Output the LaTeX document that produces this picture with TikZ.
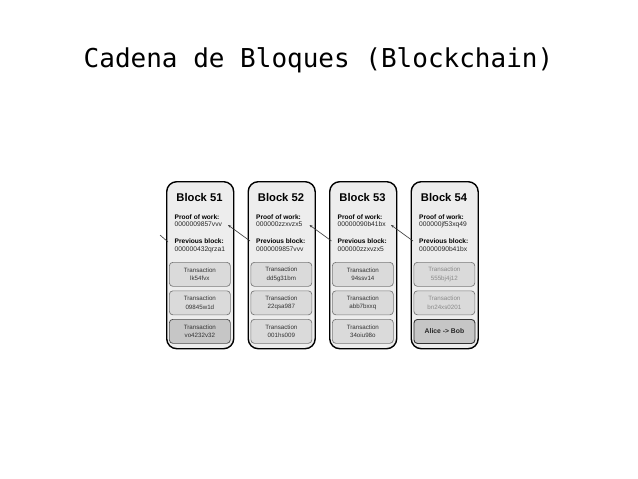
\documentclass[tikz,border=0pt]{standalone}
\usepackage{fontspec}
\setmainfont{Liberation Sans}
\newfontfamily\titlefont{DejaVu Sans Mono}
\usetikzlibrary{arrows.meta}
\definecolor{blockfill}{HTML}{EDEDED}
\definecolor{txfill}{HTML}{DADADA}
\definecolor{txdark}{HTML}{C6C6C6}
\definecolor{txline}{HTML}{7A7A7A}
\definecolor{txtext}{HTML}{333333}
\definecolor{fadetext}{HTML}{8A8A8A}
\tikzset{
 blockbox/.style={draw=black, line width=1.4pt, fill=blockfill, rounded corners=10pt, minimum width=67pt, minimum height=167pt, anchor=north west, inner sep=0},
 txbox/.style={draw=txline, line width=0.7pt, fill=txfill, rounded corners=3.5pt, minimum width=61pt, minimum height=24pt, anchor=north west, inner sep=0, align=center, font=\fontsize{6.2}{8.3}\selectfont, text=txtext},
 txdarkbox/.style={txbox, fill=txdark, draw=black!70},
 alicebox/.style={txbox, fill=txdark, draw=black!80, line width=0.9pt, font=\bfseries\fontsize{6.8}{8}\selectfont, text=black!85},
 fadetx/.style={text=fadetext},
 normtx/.style={},
 blocktitle/.style={anchor=base, inner sep=0, font=\bfseries\fontsize{11.2}{13}\selectfont},
 fieldlbl/.style={anchor=base west, inner sep=0, font=\bfseries\fontsize{6.6}{8}\selectfont},
 fieldval/.style={anchor=base west, inner sep=0, font=\fontsize{6.7}{8}\selectfont, text=black!85},
 link/.style={draw=black!80, line width=0.6pt},
 linkarrow/.style={link, -{Stealth[length=3pt,width=2.4pt]}},
 titletext/.style={anchor=base, inner sep=0, font=\titlefont\fontsize{26}{30}\selectfont},
}
\newcommand\mkblock[9]{%
 \node[blockbox] (b#2) at (#1,181) {};
 \node[blocktitle] (bt#2) at ({#1+33.5},201.7) {Block #2};
 \node[fieldlbl] (pl#2) at ({#1+8.5},219) {Proof of work:};
 \node[fieldval] (pw#2) at ({#1+8.5},226) {#3};
 \node[fieldlbl] (vl#2) at ({#1+8.5},243.3) {Previous block:};
 \node[fieldval] (pv#2) at ({#1+8.5},251) {#4};
 \node[txbox,#9] (ta#2) at ({#1+3},262) {#5};
 \node[txbox,#9] (tb#2) at ({#1+3},290.5) {#6};
 \node[#8] (tc#2) at ({#1+3},319) {#7};
}
\begin{document}
\begin{tikzpicture}[x=1pt,y=-1pt]
\fill[white] (0,0) rectangle (638,479);
\path[use as bounding box] (0,0) rectangle (638,479);
\node[titletext] (title) at (318.5,67) {Cadena de Bloques (Blockchain)};
\mkblock{166}{51}{0000009857vvv}{000000432qrza1}{Transaction\\lk54fvx}{Transaction\\09845w1d}{Transaction\\vo4232v32}{txdarkbox}{normtx}
\mkblock{247.5}{52}{000000zzxvzx5}{0000009857vvv}{Transaction\\dd5g31bm}{Transaction\\22qsa987}{Transaction\\001hs009}{txbox}{normtx}
\mkblock{329}{53}{00000090b41bx}{000000zzxvzx5}{Transaction\\94ssv14}{Transaction\\abb7bxxq}{Transaction\\34oiu98o}{txbox}{normtx}
\mkblock{410.5}{54}{000000jf53xq49}{00000090b41bx}{Transaction\\555bj4j12}{Transaction\\bn24xs0201}{Alice -> Bob}{alicebox}{fadetx}
\coordinate (h50) at (160,235);
\coordinate (p51) at (168,242);
\coordinate (h51) at (228,225);
\coordinate (p52) at (250,241);
\coordinate (h52) at (309.5,225);
\coordinate (p53) at (331.5,241);
\coordinate (h53) at (391,225);
\coordinate (p54) at (413,241);
\draw[link] (p51) -- (h50);
\draw[linkarrow] (p52) -- (h51);
\draw[linkarrow] (p53) -- (h52);
\draw[linkarrow] (p54) -- (h53);
\end{tikzpicture}
\end{document}
